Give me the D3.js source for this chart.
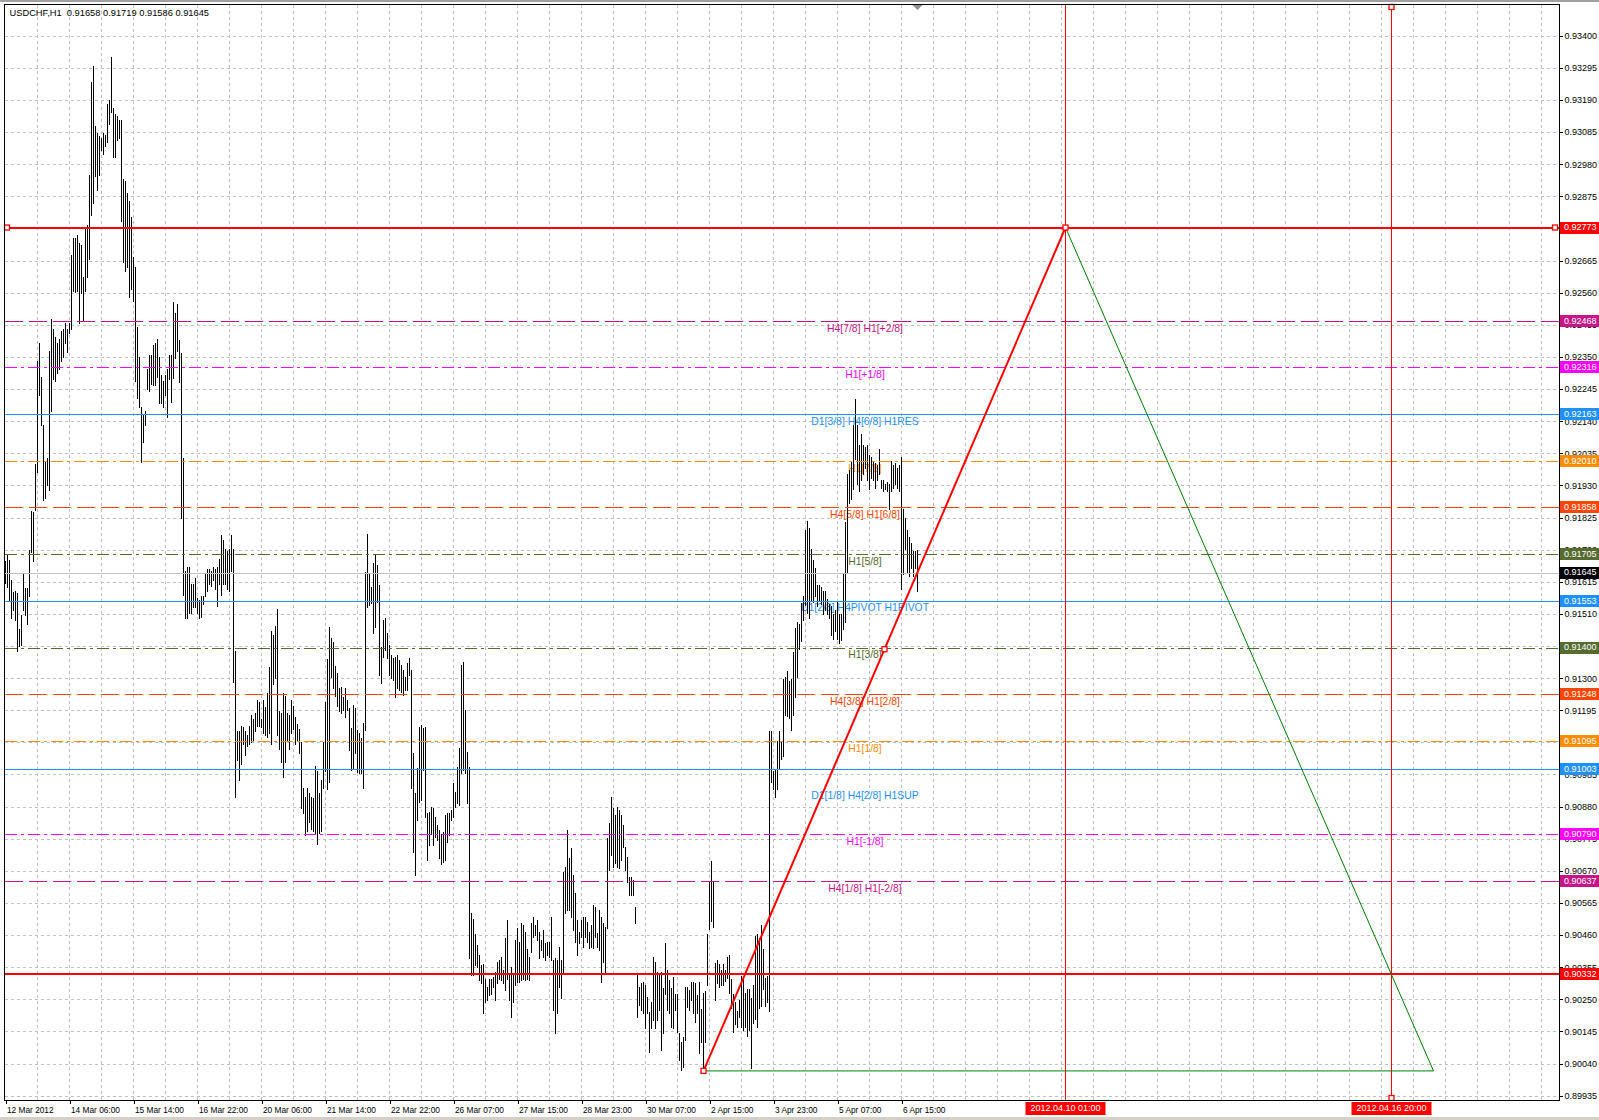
<!DOCTYPE html>
<html><head><meta charset="utf-8">
<script src="https://cdn.jsdelivr.net/npm/d3@7"></script>
<style>body{margin:0;background:#fff}svg{display:block}text{font-family:"Liberation Sans",Arial,sans-serif;white-space:pre}</style>
</head><body><svg id="c" width="1599" height="1120"></svg>
<script>
// ---------------- DATA ----------------
const chartTitle = "USDCHF,H1  0.91658 0.91719 0.91586 0.91645";
// hourly bar highs / lows, in 0.00001 units (12 Mar 22:00 .. 6 Apr 23:00)
const barHigh = [
91682,91705,91686,91620,91581,91585,91577,91462,91506,91642,
91594,91594,91718,91847,91843,92001,92336,92395,92283,92128,
92007,92021,92368,92474,92441,92414,92395,92408,92434,92441,
92460,92441,92460,92684,92740,92739,92749,92723,92716,92611,
92775,92782,92946,93248,93301,93104,93081,93071,93064,93081,
93077,93176,93189,93331,93163,93143,93137,93123,93123,92933,
92926,92887,92861,92808,92677,92644,92447,92349,92185,92165,
92172,92309,92355,92355,92388,92395,92408,92349,92290,92270,
92290,92309,92355,92357,92530,92494,92524,92405,92363,92018,
91650,91662,91662,91608,91608,91626,91561,91555,91567,91567,
91640,91656,91656,91650,91662,91656,91662,91691,91769,91751,
91721,91715,91721,91769,91721,91388,91127,91127,91145,91139,
91127,91115,91145,91180,91168,91186,91228,91222,91168,91228,
91204,91251,91335,91454,91442,91471,91525,91192,91186,91251,
91240,91186,91180,91228,91210,91174,91150,91133,91091,90942,
90913,90942,90925,90913,90907,91014,90996,90925,90966,91091,
91222,91364,91466,91430,91418,91341,91317,91269,91272,91239,
91267,91228,91201,91136,91212,91201,91130,91119,91103,91152,
91648,91771,91643,91599,91675,91703,91670,91604,91403,91490,
91495,91446,91408,91376,91365,91370,91376,91359,91343,91327,
91305,91348,91365,91327,91054,90923,91005,91141,91147,91136,
91141,90858,90863,90880,90874,90847,90820,90803,90792,90798,
90852,90858,90858,90869,90956,90929,91010,91070,91343,91354,
91196,91059,91010,90531,90514,90465,90427,90395,90362,90367,
90318,90291,90318,90318,90324,90340,90373,90378,90389,90346,
90449,90509,90335,90356,90335,90444,90482,90438,90498,90493,
90471,90416,90389,90498,90520,90493,90509,90471,90444,90477,
90433,90438,90438,90520,90378,90384,90378,90422,90378,90667,
90684,90804,90711,90744,90656,90596,90509,90471,90509,90520,
90520,90504,90471,90493,90558,90553,90466,90542,90520,90498,
90487,90776,90825,90913,90874,90853,90880,90869,90853,90820,
90749,90716,90651,90651,90640,90553,90335,90291,90302,90308,
90297,90259,90209,90242,90389,90373,90340,90329,90340,90286,
90433,90346,90313,90286,90324,90269,90269,90139,90111,90128,
90291,90291,90280,90308,90308,90302,90264,90308,90217,90272,
90278,90462,90635,90702,90635,90370,90377,90364,90346,90364,
90346,90389,90395,90315,90266,90241,90211,90247,90327,90321,
90272,90284,90284,90254,90297,90456,90462,90450,90493,90413,
90321,90327,91126,91126,90997,91003,91095,91126,91095,91298,
91304,91323,91292,91298,91384,91464,91483,91476,91544,91569,
91784,91814,91790,91723,91685,91660,91604,91604,91598,91585,
91585,91560,91542,91535,91510,91523,91548,91510,91510,91642,
91810,91967,91979,92011,92129,92211,92129,92061,92098,92061,
92054,92061,92029,92023,92011,92004,91998,92048,91948,91948,
91936,91942,91936,92011,91998,92004,91986,91998,92023,91854,
91823,91785,91760,91742,91717,91717,91719];
const barLow = [
91611,91598,91554,91495,91524,91489,91388,91406,91409,91524,
91506,91476,91568,91712,91682,91850,91975,92224,92128,91883,
91889,91931,91915,92172,92277,92270,92296,92309,92336,92349,
92395,92365,92428,92441,92565,92563,92565,92460,92559,92467,
92565,92611,92670,92815,92854,92940,92894,92946,93025,93012,
93038,93051,93110,93150,93003,93005,93058,93064,92793,92661,
92631,92644,92546,92572,92533,92270,92217,92185,92005,92073,
92126,92244,92237,92263,92257,92257,92283,92198,92198,92185,
92224,92152,92277,92203,92280,92345,92369,92268,91822,91573,
91495,91495,91513,91513,91531,91531,91513,91495,91501,91543,
91567,91584,91608,91602,91620,91590,91537,91608,91573,91608,
91608,91590,91584,91650,91287,90913,91032,90966,91020,91085,
91049,91079,91085,91091,91097,91127,91145,91145,91139,91121,
91115,91109,91121,91085,91281,91299,91115,91067,91026,90978,
91026,91097,91067,91121,91133,91085,91097,91055,90877,90859,
90788,90800,90829,90806,90800,90794,90758,90794,90800,90942,
90996,90936,90960,91305,91269,91240,91210,91192,91187,91196,
91174,91196,91065,90999,91005,91054,90994,90989,90989,90940,
91130,91534,91539,91545,91446,91468,91550,91310,91283,91370,
91392,91365,91310,91299,91294,91239,91267,91261,91256,91245,
91261,91261,91310,90940,90732,90656,90836,90896,90901,90999,
90847,90705,90754,90792,90754,90781,90771,90711,90694,90700,
90705,90765,90787,90836,90847,90880,90891,90885,90989,90999,
90989,90891,90384,90329,90329,90362,90356,90313,90302,90204,
90242,90247,90264,90269,90291,90247,90302,90318,90313,90302,
90280,90318,90247,90193,90242,90296,90307,90307,90313,90318,
90313,90318,90313,90406,90455,90460,90444,90384,90411,90389,
90378,90395,90389,90378,90215,90139,90204,90291,90253,90340,
90531,90542,90542,90520,90477,90438,90395,90433,90455,90422,
90455,90438,90417,90422,90417,90455,90422,90411,90308,90373,
90340,90482,90673,90722,90684,90695,90684,90678,90705,90749,
90673,90635,90591,90591,90591,90498,90193,90231,90215,90204,
90155,90204,90079,90155,90182,90155,90182,90215,90084,90139,
90269,90215,90204,90160,90155,90215,90144,90051,90019,90030,
90117,90226,90215,90248,90204,90177,90204,90073,90112,90016,
90112,90297,90481,90506,90487,90247,90303,90290,90297,90297,
90309,90321,90272,90223,90143,90168,90161,90192,90161,90149,
90161,90131,90149,90026,90174,90186,90161,90223,90229,90284,
90229,90241,90211,90960,90936,90911,90936,91003,91034,91046,
91181,91175,91169,91132,91181,91237,91304,91396,91421,91489,
91538,91513,91495,91554,91548,91567,91535,91554,91542,91510,
91523,91510,91498,91441,91429,91454,91429,91416,91423,91460,
91485,91648,91873,91886,91917,92017,91936,91911,91948,91967,
91986,91948,91917,91954,91948,91923,91948,91967,91923,91911,
91917,91911,91854,91911,91923,91936,91923,91911,91592,91642,
91723,91648,91635,91660,91635,91660,91586];

const timeLabels = ["12 Mar 2012","14 Mar 06:00","15 Mar 14:00","16 Mar 22:00","20 Mar 06:00","21 Mar 14:00","22 Mar 22:00","26 Mar 07:00","27 Mar 15:00","28 Mar 23:00","30 Mar 07:00","2 Apr 15:00","3 Apr 23:00","5 Apr 07:00","6 Apr 15:00"];
const timeLabelBars = [0,32,64,96,128,160,192,224,256,288,320,352,384,416,448];

const priceTickLabels = ["0.93400","0.93295","0.93190","0.93085","0.92980","0.92875","0.92770","0.92665","0.92560","0.92455","0.92350","0.92245","0.92140","0.92035","0.91930","0.91825","0.91720","0.91615","0.91510","0.91405","0.91300","0.91195","0.91090","0.90985","0.90880","0.90775","0.90670","0.90565","0.90460","0.90355","0.90250","0.90145","0.90040","0.89935"];

const levelPrices = [0.92468,0.92316,0.92163,0.92010,0.91858,0.91705,0.91553,0.91400,0.91248,0.91095,0.91003,0.90790,0.90637];
const levelNames = ["H4[7/8] H1[+2/8]","H1[+1/8]","D1[3/8] H4[6/8] H1RES","H1[7/8]","H4[5/8] H1[6/8]","H1[5/8]","D1[2/8] H4PIVOT H1PIVOT","H1[3/8]","H4[3/8] H1[2/8]","H1[1/8]","D1[1/8] H4[2/8] H1SUP","H1[-1/8]","H4[1/8] H1[-2/8]"];
const levelKinds = ["dash","dashdot","solid","dashdot","dash","dashdot","solid","dashdot","dash","dashdot","solid","dashdot","dash"];
const targetPrices = [0.92773, 0.90332];
const currentPrice = 0.91645;
// triangle drawing: bar index / price
const triangleBars = [349, 530, 714];
const trianglePrices = [0.90016, 0.92773, 0.90016];
const vlineBars = [530, 693];
const vlineLabels = ["2012.04.10 01:00","2012.04.16 20:00"];

// ---------------- STYLE ----------------
const levelColors = ["#C71585","#FF00FF","#1E90FF","#FF8C00","#FF4500","#556B2F","#1E90FF","#556B2F","#FF4500","#FF8C00","#1E90FF","#FF00FF","#C71585"];
const levelTextOffset = [8,8,8,8,8,8,8,8,8,8,27,8,8];
const dashes = {dash:"18,6", dashdot:"12,4,3,4", solid:null};

const L = 4.5, R = 1559.5, T = 4.5, B = 1100.5;
const svg = d3.select("#c");
const x = d3.scaleLinear().domain([0, 456]).range([5, 917]);
const y = d3.scaleLinear().domain([0.89935, 0.93400]).range([1095.7, 35.7]);
const px = v => Math.round(x(v)) + 0.5;
const py = v => Math.round(y(v)) + 0.5;

// window chrome
svg.append("rect").attr("x",0).attr("y",0).attr("width",1599).attr("height",1120).attr("fill","#fff");
svg.append("rect").attr("x",0).attr("y",0).attr("width",1599).attr("height",2).attr("fill","#a0a0a0");
svg.append("rect").attr("x",0).attr("y",1117).attr("width",1599).attr("height",3).attr("fill","#d4d0c8");

const plot = svg.append("g");

// grid
const grid = plot.append("g").attr("stroke","#c0c0c0").attr("stroke-dasharray","3,3").attr("shape-rendering","crispEdges");
const priceTicks = priceTickLabels.map(Number);
grid.selectAll("line.h").data(priceTicks).join("line").attr("class","h")
  .attr("x1",L).attr("x2",R).attr("y1",d=>py(d)).attr("y2",d=>py(d));
const gridBars = d3.range(16, 790, 16).filter(i => x(i) < R-2);
grid.selectAll("line.v").data(gridBars).join("line").attr("class","v")
  .attr("x1",d=>px(d)-0.5).attr("x2",d=>px(d)-0.5).attr("y1",T).attr("y2",B);

// level texts (under bars)
plot.append("g").selectAll("text").data(levelPrices).join("text")
  .attr("x",865).attr("y",(d,i)=>y(d)+levelTextOffset[i]).attr("text-anchor","middle").attr("dominant-baseline","middle")
  .attr("font-size",10.4).attr("fill",(d,i)=>levelColors[i]).text((d,i)=>levelNames[i]);

// bars
plot.append("g").attr("stroke","#000").attr("shape-rendering","crispEdges")
  .selectAll("line").data(barHigh).join("line")
  .attr("x1",(d,i)=>px(i)).attr("x2",(d,i)=>px(i))
  .attr("y1",d=>Math.round(y(d/1e5))).attr("y2",(d,i)=>Math.round(y(barLow[i]/1e5))+1);

// current price line
plot.append("line").attr("x1",L).attr("x2",R).attr("y1",py(currentPrice)).attr("y2",py(currentPrice))
  .attr("stroke","#c0c0c0").attr("shape-rendering","crispEdges");

// level lines
plot.append("g").attr("shape-rendering","crispEdges").selectAll("line").data(levelPrices).join("line")
  .attr("x1",L).attr("x2",R).attr("y1",d=>py(d)).attr("y2",d=>py(d))
  .attr("stroke",(d,i)=>levelColors[i]).attr("stroke-dasharray",(d,i)=>dashes[levelKinds[i]]);

// vertical red lines
plot.append("g").selectAll("line").data(vlineBars).join("line")
  .attr("x1",d=>px(d)).attr("x2",d=>px(d)).attr("y1",T).attr("y2",B)
  .attr("stroke","#ff0000").attr("shape-rendering","crispEdges");

// target lines
plot.append("g").selectAll("line").data(targetPrices).join("line")
  .attr("x1",L).attr("x2",R).attr("y1",d=>Math.round(y(d))).attr("y2",d=>Math.round(y(d)))
  .attr("stroke","#ff0000").attr("stroke-width",2);

// triangle
const tp = triangleBars.map((b,i)=>[x(b)+0.5, y(trianglePrices[i])]);
plot.append("line").attr("x1",tp[0][0]).attr("y1",tp[0][1]).attr("x2",tp[2][0]).attr("y2",tp[2][1])
  .attr("stroke","#008000");
plot.append("line").attr("x1",tp[1][0]).attr("y1",tp[1][1]).attr("x2",tp[2][0]).attr("y2",tp[2][1])
  .attr("stroke","#008000");
plot.append("line").attr("x1",tp[0][0]).attr("y1",tp[0][1]).attr("x2",tp[1][0]).attr("y2",tp[1][1])
  .attr("stroke","#ff0000").attr("stroke-width",2);

// anchor squares
const sq = [
  [7, y(targetPrices[0])], [1555, y(targetPrices[0])],
  tp[0], tp[1], [(tp[0][0]+tp[1][0])/2, (tp[0][1]+tp[1][1])/2],
  [px(vlineBars[1]), 7], [px(vlineBars[1]), 1098]
];
plot.append("g").selectAll("rect").data(sq).join("rect")
  .attr("x",d=>d[0]-2.5).attr("y",d=>d[1]-2.5).attr("width",5).attr("height",5)
  .attr("fill","#fff").attr("stroke","#ff0000").attr("stroke-width",1.3);

// frame
svg.append("rect").attr("x",L).attr("y",T).attr("width",R-L).attr("height",B-T)
  .attr("fill","none").attr("stroke","#000").attr("shape-rendering","crispEdges");
// chart shift marker
svg.append("path").attr("d",`M${px(456)-5},5 L${px(456)+5},5 L${px(456)},10 Z`).attr("fill","#909090");

// title
svg.append("text").attr("x",9.5).attr("y",14).attr("dominant-baseline","middle")
  .attr("font-size",9.3).attr("fill","#000").text(chartTitle);

// price axis
const yAxis = d3.axisRight(y).tickValues(priceTicks).tickFormat((d,i)=>priceTickLabels[i]).tickSize(3).tickPadding(2);
const ya = svg.append("g").attr("transform",`translate(${R},0)`).call(yAxis);
ya.select(".domain").remove();
ya.selectAll("line").attr("stroke","#000").attr("shape-rendering","crispEdges");
ya.selectAll("text").attr("font-size",9).attr("fill","#000").attr("font-family","Liberation Sans, Arial, sans-serif");

// time axis
const xAxis = d3.axisBottom(x).tickValues(timeLabelBars).tickFormat((d,i)=>timeLabels[i]).tickSize(3).tickPadding(2);
const xa = svg.append("g").attr("transform",`translate(0.5,${B})`).call(xAxis);
xa.select(".domain").remove();
xa.selectAll("line").attr("stroke","#000").attr("shape-rendering","crispEdges");
xa.selectAll("text").attr("font-size",8.3).attr("fill","#000").attr("text-anchor","start").attr("x",1).attr("dy","0.9em")
  .attr("font-family","Liberation Sans, Arial, sans-serif");

// right-axis level boxes
const boxes = [];
levelPrices.forEach((p,i)=>boxes.push({p, c:levelColors[i], t:"#fff"}));
targetPrices.forEach(p=>boxes.push({p, c:"#ff0000", t:"#fff"}));
boxes.push({p:currentPrice, c:"#000", t:"#fff"});
const bg = svg.append("g");
bg.selectAll("rect").data(boxes).join("rect")
  .attr("x",R+0.5).attr("y",d=>Math.round(y(d.p))-6).attr("width",1599-R).attr("height",12).attr("fill",d=>d.c);
bg.selectAll("text").data(boxes).join("text")
  .attr("x",1564).attr("y",d=>y(d.p)+0.5).attr("dominant-baseline","middle").attr("font-size",9)
  .attr("fill",d=>d.t).text(d=>d3.format(".5f")(d.p));

// time boxes for vertical lines
const tb = svg.append("g");
tb.selectAll("rect").data(vlineBars).join("rect")
  .attr("x",d=>px(d)-40).attr("y",B+1.5).attr("width",80).attr("height",13).attr("fill","#ff0000");
tb.selectAll("text").data(vlineBars).join("text")
  .attr("x",d=>px(d)).attr("y",B+8.5).attr("text-anchor","middle").attr("dominant-baseline","middle")
  .attr("font-size",9).attr("fill","#fff").text((d,i)=>vlineLabels[i]);
</script></body></html>
